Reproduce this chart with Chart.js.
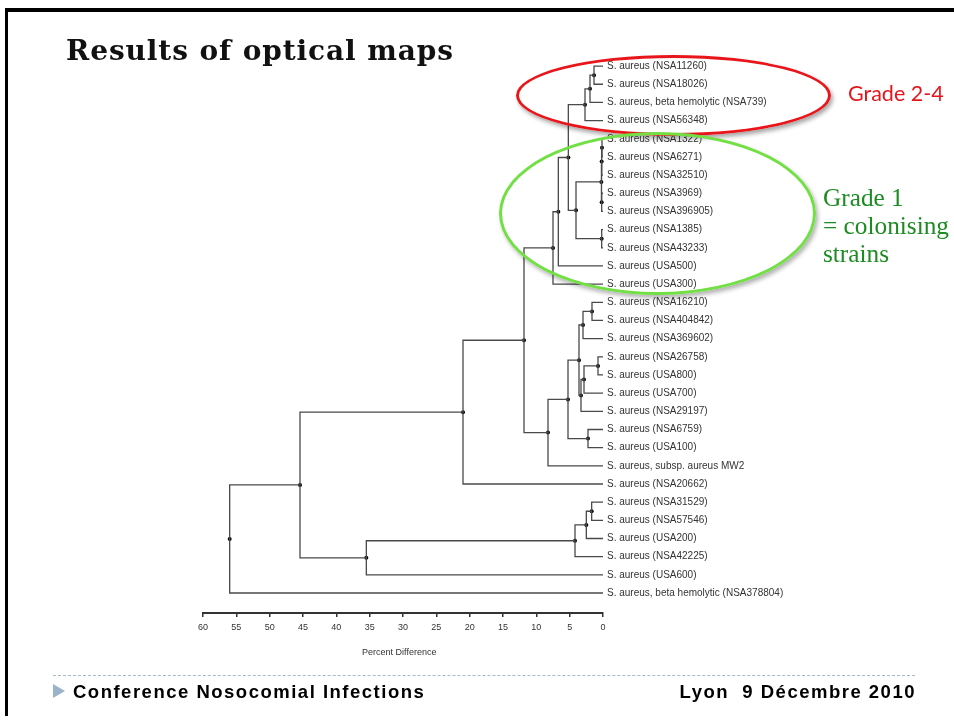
<!DOCTYPE html>
<html>
<head>
<meta charset="utf-8">
<title>Results of optical maps</title>
<script src="https://cdn.jsdelivr.net/npm/chart.js@4.4.1/dist/chart.umd.min.js"></script>
<style>
  html, body { margin: 0; padding: 0; background: #fff; }
  #slide { position: relative; width: 954px; height: 721px; overflow: hidden; }
  #tree { position: absolute; left: 0; top: 0; }
  .frame { position: absolute; left: 5px; top: 8px; width: 980px; height: 704px;
           border-top: 4px solid #000; border-left: 3px solid #000; }
  .title { position: absolute; left: 66px; top: 37px; font: bold 28px "DejaVu Serif", serif;
           line-height: 1; letter-spacing: 0.9px; color: #111; white-space: nowrap; }
  .ring { position: absolute; border-radius: 50%; box-sizing: border-box; }
  .ring.red { left: 516px; top: 55px; width: 315px; height: 81px; border: 3px solid #e8161b;
              box-shadow: 2px 3px 4px rgba(0,0,0,0.35); }
  .ring.green { left: 499px; top: 132px; width: 317px; height: 163px; border: 3px solid #72df45;
                box-shadow: 2px 3px 4px rgba(0,0,0,0.3); }
  .grade24 { position: absolute; left: 848px; top: 80px; font: 21.5px Lato, sans-serif; color: #e3161c; }
  .grade1 { position: absolute; left: 823px; top: 183px; font: 25.3px "Liberation Serif", serif;
            line-height: 28px; color: #1c8c22; white-space: nowrap; }
  .dash { position: absolute; left: 53px; top: 675px; width: 862px; border-top: 1px dashed #a9b9cc; }
  .arrow { position: absolute; left: 53px; top: 684px; width: 0; height: 0;
           border-top: 7px solid transparent; border-bottom: 7px solid transparent;
           border-left: 12px solid #9cb3cc; }
  .foot { position: absolute; top: 681px; font: bold 18.5px "Liberation Sans", Arial, sans-serif;
          letter-spacing: 1.5px; color: #000; white-space: pre; }
  .foot.left { left: 73px; }
  .foot.right { right: 38px; }
</style>
</head>
<body>
<div id="slide">
  <canvas id="tree" width="954" height="721"></canvas>
  <div class="frame"></div>
  <div class="title">Results of optical maps</div>
  <div class="ring red"></div>
  <div class="ring green"></div>
  <div class="grade24">Grade 2-4</div>
  <div class="grade1">Grade 1<br>= colonising<br>strains</div>
  <div class="dash"></div>
  <div class="arrow"></div>
  <div class="foot left">Conference Nosocomial Infections</div>
  <div class="foot right">Lyon  9 Décembre 2010</div>
</div>
<script>
// leaves, top to bottom
const leafNames = [
    "S. aureus (NSA11260)",
    "S. aureus (NSA18026)",
    "S. aureus, beta hemolytic (NSA739)",
    "S. aureus (NSA56348)",
    "S. aureus (NSA1322)",
    "S. aureus (NSA6271)",
    "S. aureus (NSA32510)",
    "S. aureus (NSA3969)",
    "S. aureus (NSA396905)",
    "S. aureus (NSA1385)",
    "S. aureus (NSA43233)",
    "S. aureus (USA500)",
    "S. aureus (USA300)",
    "S. aureus (NSA16210)",
    "S. aureus (NSA404842)",
    "S. aureus (NSA369602)",
    "S. aureus (NSA26758)",
    "S. aureus (USA800)",
    "S. aureus (USA700)",
    "S. aureus (NSA29197)",
    "S. aureus (NSA6759)",
    "S. aureus (USA100)",
    "S. aureus, subsp. aureus MW2",
    "S. aureus (NSA20662)",
    "S. aureus (NSA31529)",
    "S. aureus (NSA57546)",
    "S. aureus (USA200)",
    "S. aureus (NSA42225)",
    "S. aureus (USA600)",
    "S. aureus, beta hemolytic (NSA378804)"
];

// merges, linkage style: new cluster id = leafNames.length + index
const mergeLeft   = [0, 30, 31, 4, 33, 7, 34, 9, 36, 32, 39, 40, 13, 42, 16, 44, 45, 43, 20, 47, 49, 41, 51, 24, 53, 54, 55, 52, 57];
const mergeRight  = [1, 2, 3, 5, 6, 8, 35, 10, 37, 38, 11, 12, 14, 15, 17, 18, 19, 46, 21, 48, 22, 50, 23, 25, 26, 27, 28, 56, 29];
// percent difference at each merge
const mergeHeight = [1.35, 1.95, 2.7, 0.15, 0.2, 0.2, 0.25, 0.2, 4.05, 5.2, 6.7, 7.5, 1.65, 3.0, 0.75, 2.85, 3.3, 3.6, 2.25, 5.25, 8.25, 11.85, 21.0, 1.7, 2.5, 4.2, 35.5, 45.45, 56.0];

const axisTicks = [0, 5, 10, 15, 20, 25, 30, 35, 40, 45, 50, 55, 60];

// build elbow branches from the merge table
const nodeX = [];
const nodeY = [];
leafNames.forEach((_, i) => { nodeX[i] = 0; nodeY[i] = i; });

const datasets = [];
const dots = [];
mergeHeight.forEach((h, k) => {
    const id = leafNames.length + k;
    const a = mergeLeft[k];
    const b = mergeRight[k];
    nodeX[id] = h;
    nodeY[id] = (nodeY[a] + nodeY[b]) / 2;
    datasets.push({
        data: [
            { x: nodeX[a], y: nodeY[a] },
            { x: h, y: nodeY[a] },
            { x: h, y: nodeY[b] },
            { x: nodeX[b], y: nodeY[b] }
        ],
        showLine: true,
        borderColor: "#4a4a4a",
        borderWidth: 1.3,
        pointRadius: 0,
        clip: false
    });
    dots.push({ x: h, y: nodeY[id] });
});

datasets.push({
    data: dots,
    showLine: false,
    pointRadius: 2,
    pointBackgroundColor: "#000",
    pointBorderWidth: 0,
    clip: false
});

const ctx = document.getElementById("tree").getContext("2d");
new Chart(ctx, {
    type: "scatter",
    data: { datasets: datasets },
    options: {
        responsive: false,
        animation: false,
        events: [],
        layout: { padding: { left: 203, top: 57, right: 0, bottom: 59 } },
        plugins: {
            legend: { display: false },
            tooltip: { enabled: false }
        },
        scales: {
            x: {
                type: "linear",
                reverse: true,
                min: 0,
                max: 60,
                afterBuildTicks: (scale) => { scale.ticks = axisTicks.map(v => ({ value: v })); },
                afterFit: (scale) => { scale.height = 49; },
                ticks: {
                    color: "#333",
                    padding: 5,
                    maxRotation: 0,
                    font: { family: "Liberation Sans, Arial", size: 9 }
                },
                grid: {
                    drawOnChartArea: false,
                    drawTicks: true,
                    tickLength: 4,
                    color: "#333",
                    lineWidth: 1.5
                },
                border: { display: true, color: "#333", width: 2 },
                title: {
                    display: true,
                    text: "Percent Difference   ",
                    color: "#333",
                    padding: { top: 4, bottom: 4 },
                    font: { family: "Liberation Sans, Arial", size: 9 }
                }
            },
            y: {
                type: "linear",
                position: "right",
                reverse: true,
                min: -0.5,
                max: 30.1,
                afterBuildTicks: (scale) => { scale.ticks = leafNames.map((_, i) => ({ value: i })); },
                afterFit: (scale) => { scale.width = 351; },
                ticks: {
                    autoSkip: false,
                    padding: 4,
                    color: "#333",
                    font: { family: "Liberation Sans, Arial", size: 10 },
                    callback: (v) => leafNames[v]
                },
                grid: { display: false, drawTicks: false, tickLength: 0 },
                border: { display: false }
            }
        }
    }
});
</script>
</body>
</html>
